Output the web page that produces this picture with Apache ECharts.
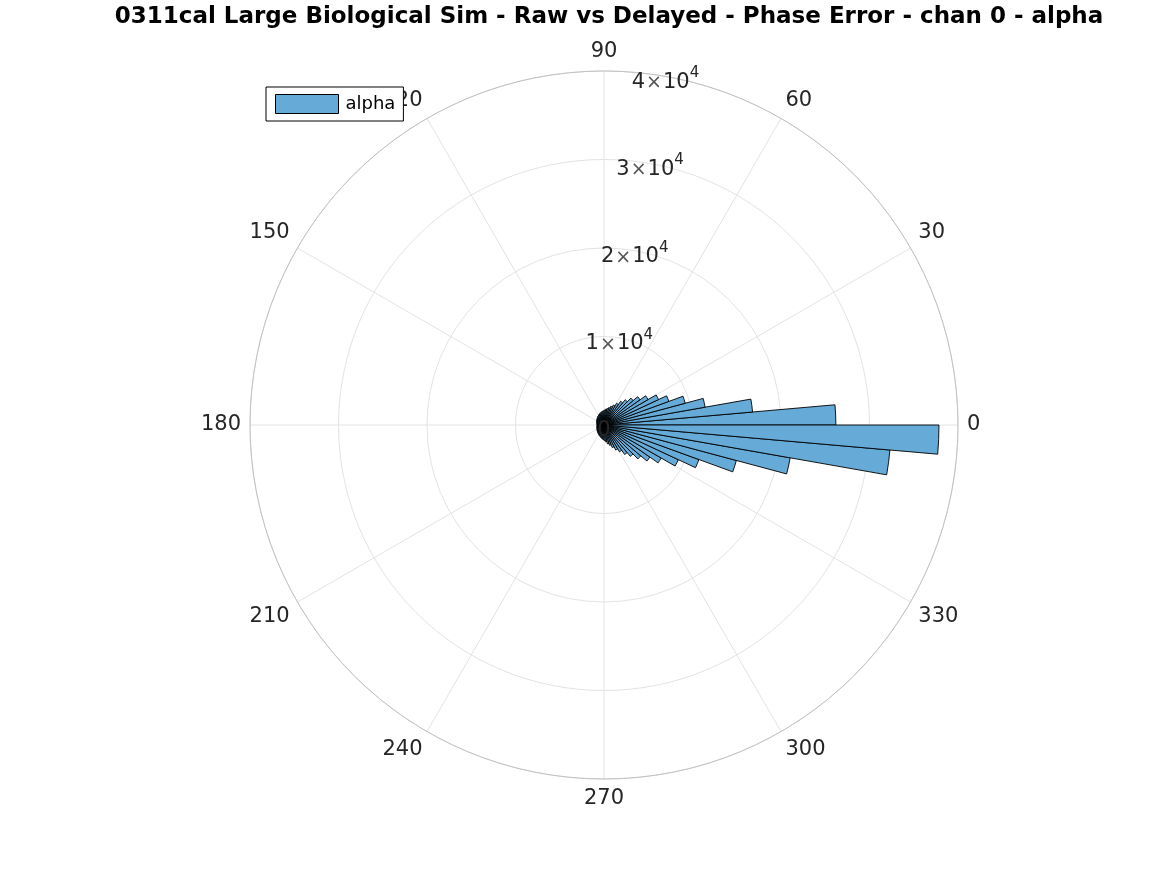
<!DOCTYPE html>
<html>
<head>
<meta charset="utf-8">
<script src="https://cdn.jsdelivr.net/npm/echarts@6/dist/echarts.min.js"></script>
<style>html,body{margin:0;padding:0;background:#fff;}#c{width:1167px;height:875px;}</style>
</head>
<body>
<div id="c"></div>
<script>
// Bin start angles (degrees), 5-degree bins
const binStarts = Array.from({length: 72}, (_, i) => i * 5);
const binLabels = binStarts.map(a => a + '-' + (a + 5));
// Counts per bin
const alphaCounts = [
  26200, 16850, 11600, 9500, 7800, 6800, 5750, 4970, 4300, 3730, 3280, 2830,
  2490, 2260, 2050, 1900, 1780, 1680, 1600, 1530, 1460, 1400, 1340, 1280,
  1220, 1170, 1120, 1070, 1020, 980, 940, 900, 870, 840, 820, 800,
  800, 810, 830, 850, 880, 910, 950, 990, 1030, 1080, 1130, 1180,
  1240, 1300, 1370, 1450, 1540, 1640, 1760, 1900, 2150, 2370, 2710, 3120,
  3500, 4070, 4630, 5420, 6330, 7460, 9270, 11410, 15480, 21360, 32430, 37850
];
const radialTicks = [0, 10000, 20000, 30000, 40000];
const angleTicks = [0, 30, 60, 90, 120, 150, 180, 210, 240, 270, 300, 330];

const chart = echarts.init(document.getElementById('c'), null, {renderer: 'canvas'});
const C = [604, 425], R = 354;
const FONT = 'DejaVu Sans';
const option = {
  backgroundColor: '#fff',
  animation: false,
  title: {
    text: '0311cal Large Biological Sim - Raw vs Delayed - Phase Error - chan 0 - alpha',
    left: 604, top: 1, textAlign: 'center',
    textStyle: {fontFamily: FONT, fontWeight: 'bold', fontSize: 23, color: '#000'}
  },
  legend: {
    show: true, data: [{name: 'alpha', icon: 'rect'}], orient: 'vertical',
    left: 266, top: 87,
    backgroundColor: '#fff', borderColor: '#000', borderWidth: 1, borderRadius: 0,
    padding: [7, 8, 7, 9], itemWidth: 63, itemHeight: 19, itemGap: 0,
    itemStyle: {borderWidth: 1, borderColor: '#000'},
    textStyle: {fontFamily: FONT, fontSize: 18, color: '#000', padding: [0, 0, 0, 2]},
    z: 20
  },
  polar: [
    {center: C, radius: R},
    {center: C, radius: R},
    {center: C, radius: R}
  ],
  angleAxis: [
    {
      polarIndex: 0, type: 'value', min: 0, max: 360, interval: 30,
      startAngle: 0, clockwise: false,
      axisLine: {show: true, lineStyle: {color: '#c2c2c2', width: 1}},
      axisTick: {show: false},
      splitLine: {show: true, lineStyle: {color: '#e3e3e3', width: 1}},
      axisLabel: {
        show: true, margin: 9, color: '#262626', fontFamily: FONT, fontSize: 21,
        formatter: v => angleTicks.indexOf(v) >= 0 ? String(v) : ''
      },
      z: 1
    },
    {
      polarIndex: 1, type: 'category', data: binLabels,
      startAngle: 0, clockwise: false, boundaryGap: true,
      axisLine: {show: false}, axisTick: {show: false}, axisLabel: {show: false},
      splitLine: {show: false}
    },
    {
      polarIndex: 2, type: 'value', min: 0, max: 360,
      startAngle: 80, clockwise: false, show: false
    }
  ],
  radiusAxis: [
    {
      polarIndex: 0, type: 'value', min: 0, max: 40000, interval: 10000,
      axisLine: {show: false}, axisTick: {show: false}, axisLabel: {show: false},
      splitLine: {show: true, lineStyle: {color: '#e3e3e3', width: 1}},
      z: 1
    },
    {
      polarIndex: 1, type: 'value', min: 0, max: 40000, interval: 10000,
      axisLine: {show: false}, axisTick: {show: false}, axisLabel: {show: false},
      splitLine: {show: false}
    },
    {
      polarIndex: 2, type: 'value', min: 0, max: 40000, interval: 10000,
      axisLine: {show: false}, axisTick: {show: false}, splitLine: {show: false},
      axisLabel: {
        show: true, margin: 0, rotate: 0, align: 'center', verticalAlign: 'middle',
        color: '#262626', fontFamily: FONT, padding: [6, 0, 0, 0],
        formatter: v => radialTicks.indexOf(v) < 0 ? '' :
          (v === 0 ? '{n|0}' : '{n|' + (v / 10000) + '}{x|×}{n|10}{s|4}'),
        rich: {
          n: {fontFamily: FONT, fontSize: 21, color: '#262626', lineHeight: 27, verticalAlign: 'bottom'},
          x: {fontFamily: FONT, fontSize: 19, color: '#555', lineHeight: 27, verticalAlign: 'bottom', padding: [0, 1, 0, 1]},
          s: {fontFamily: FONT, fontSize: 15, color: '#262626', lineHeight: 27, verticalAlign: 'top'}
        }
      },
      z: 10
    }
  ],
  series: [{
    name: 'alpha', type: 'bar', coordinateSystem: 'polar', polarIndex: 1,
    data: alphaCounts, barCategoryGap: '0%', barGap: '0%',
    itemStyle: {color: '#66aad7', borderColor: '#000', borderWidth: 0.9},
    z: 5
  }]
};
chart.setOption(option);
</script>
</body>
</html>
